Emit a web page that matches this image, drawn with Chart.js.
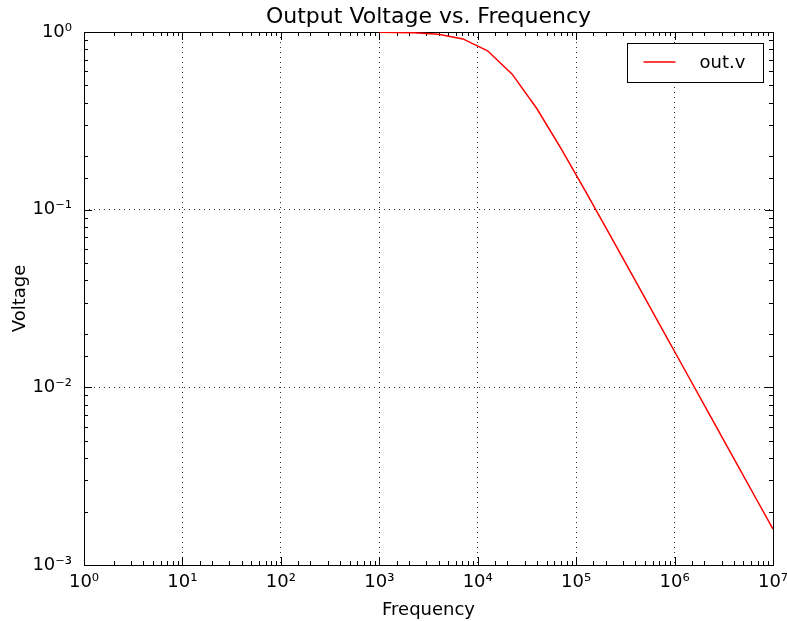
<!DOCTYPE html>
<html>
<head>
<meta charset="utf-8">
<script src="https://cdn.jsdelivr.net/npm/chart.js@4"></script>
<style>
  html, body { margin: 0; padding: 0; background: #fff; }
  #wrap { width: 787px; height: 621px; }
</style>
</head>
<body>
<div id="wrap"><canvas id="myChart" width="787" height="621"></canvas></div>
<script>
// values
var frequency = [1000, 2239, 3981, 7079, 12589, 22387, 39811, 70795, 125893, 223872,
                 398107, 707946, 1258925, 2238721, 3981072, 7079458, 10000000];
var voltage = [0.998, 0.990, 0.970, 0.914, 0.784, 0.579, 0.371, 0.219, 0.1254, 0.0709,
               0.03995, 0.02248, 0.01264, 0.00711, 0.003998, 0.002248, 0.001592];

var xDecades = [1, 10, 100, 1000, 10000, 100000, 1000000, 10000000];
var xTickLabels = ["10\u2070", "10\u00b9", "10\u00b2", "10\u00b3", "10\u2074", "10\u2075", "10\u2076", "10\u2077"];
var yDecades = [0.001, 0.01, 0.1, 1];
var yTickLabels = ["10\u207b\u00b3", "10\u207b\u00b2", "10\u207b\u00b9", "10\u2070"];

var FONT = "'DejaVu Sans', sans-serif";

function isDecade(v) {
    var l = Math.log10(v);
    return Math.abs(l - Math.round(l)) < 1e-6;
}

function decadeLabel(v, decades, labels) {
    for (var i = 0; i < decades.length; i++) {
        if (Math.abs(Math.log10(v) - Math.log10(decades[i])) < 1e-6) return labels[i];
    }
    return "";
}

// frame + inward ticks on all four sides, like the matplotlib classic style
var frameTicks = {
    id: "frameTicks",
    beforeDatasetsDraw(chart) {
        var ctx = chart.ctx;
        var a = chart.chartArea;
        var xs = chart.scales.x, ys = chart.scales.y;
        ctx.save();
        ctx.setLineDash([]);
        ctx.strokeStyle = "#000";
        ctx.lineWidth = 1;
        ctx.beginPath();
        xs.ticks.forEach(function (t) {
            var px = Math.round(xs.getPixelForValue(t.value)) + 0.5;
            var len = isDecade(t.value) ? 8 : 4;
            ctx.moveTo(px, a.bottom); ctx.lineTo(px, a.bottom - len);
            ctx.moveTo(px, a.top); ctx.lineTo(px, a.top + len);
        });
        ys.ticks.forEach(function (t) {
            var py = Math.round(ys.getPixelForValue(t.value)) + 0.5;
            var len = isDecade(t.value) ? 8 : 4;
            ctx.moveTo(a.left, py); ctx.lineTo(a.left + len, py);
            ctx.moveTo(a.right, py); ctx.lineTo(a.right - len, py);
        });
        ctx.stroke();
        ctx.strokeRect(Math.round(a.left) + 0.5, Math.round(a.top) + 0.5,
                       Math.round(a.right - a.left), Math.round(a.bottom - a.top));
        ctx.restore();
    }
};

// boxed legend in the upper right of the plot
var boxLegend = {
    id: "boxLegend",
    afterDraw(chart) {
        var ctx = chart.ctx;
        var a = chart.chartArea;
        var ds = chart.data.datasets[0];
        var w = 136, h = 39;
        var x0 = Math.round(a.right - 10 - w) + 0.5;
        var y0 = Math.round(a.top + 11) + 0.5;
        ctx.save();
        ctx.fillStyle = "#fff";
        ctx.fillRect(x0, y0, w, h);
        ctx.strokeStyle = "#000";
        ctx.lineWidth = 1;
        ctx.strokeRect(x0, y0, w, h);
        ctx.strokeStyle = ds.borderColor;
        ctx.lineWidth = 1.5;
        ctx.beginPath();
        ctx.moveTo(x0 + 16, y0 + 18.5);
        ctx.lineTo(x0 + 48, y0 + 18.5);
        ctx.stroke();
        ctx.fillStyle = "#000";
        ctx.font = "18px " + FONT;
        ctx.textBaseline = "alphabetic";
        ctx.fillText(ds.label, x0 + 72, y0 + 24);
        ctx.restore();
    }
};

var points = frequency.map(function (f, i) { return { x: f, y: voltage[i] }; });

var ctx = document.getElementById("myChart").getContext("2d");

new Chart(
  ctx,
  {
    type: "line",
    data: {
        datasets: [
            {
                label: "out.v",
                data: points,
                borderColor: "#ff0000",
                borderWidth: 1.5,
                pointRadius: 0,
                tension: 0,
                fill: false
            }
        ]
    },
    options: {
        responsive: false,
        animation: false,
        devicePixelRatio: 1,
        layout: {
            padding: { left: 0, right: 14, top: 0, bottom: 0 }
        },
        scales: {
            x: {
                type: "logarithmic",
                min: 1,
                max: 10000000,
                afterFit: (scale) => {
                    scale.height = 56;
                    scale.paddingLeft = 0;
                    scale.paddingRight = 0;
                },
                grid: {
                    drawTicks: false,
                    lineWidth: 1,
                    color: (c) => (c.tick && isDecade(c.tick.value)) ? "rgba(0,0,0,0.85)" : "rgba(0,0,0,0)"
                },
                border: { display: false, dash: [1, 4] },
                ticks: {
                    autoSkip: false,
                    maxRotation: 0,
                    minRotation: 0,
                    padding: 7,
                    color: "#000",
                    font: { family: FONT, size: 18 },
                    callback: (value) => decadeLabel(value, xDecades, xTickLabels)
                },
                title: {
                    display: true,
                    text: "Frequency",
                    color: "#000",
                    font: { family: FONT, size: 18 },
                    padding: { top: 0, bottom: 0 }
                }
            },
            y: {
                type: "logarithmic",
                min: 0.001,
                max: 1,
                afterFit: (scale) => {
                    scale.width = 84;
                    scale.paddingTop = 0;
                    scale.paddingBottom = 0;
                },
                grid: {
                    drawTicks: false,
                    lineWidth: 1,
                    color: (c) => (c.tick && isDecade(c.tick.value)) ? "rgba(0,0,0,0.85)" : "rgba(0,0,0,0)"
                },
                border: { display: false, dash: [1, 4] },
                ticks: {
                    autoSkip: false,
                    padding: 12,
                    color: "#000",
                    font: { family: FONT, size: 18 },
                    callback: (value) => decadeLabel(value, yDecades, yTickLabels)
                },
                title: {
                    display: true,
                    text: "Voltage",
                    color: "#000",
                    font: { family: FONT, size: 18 },
                    padding: { top: 10, bottom: 0 }
                }
            }
        },
        plugins: {
            legend: { display: false },
            tooltip: { enabled: false },
            title: {
                display: true,
                fullSize: false,
                text: "Output Voltage vs. Frequency",
                color: "#000",
                font: { family: FONT, size: 22, weight: "normal" },
                padding: { top: 4, bottom: 1.6 }
            }
        }
    },
    plugins: [frameTicks, boxLegend]
  }
);
</script>
</body>
</html>
